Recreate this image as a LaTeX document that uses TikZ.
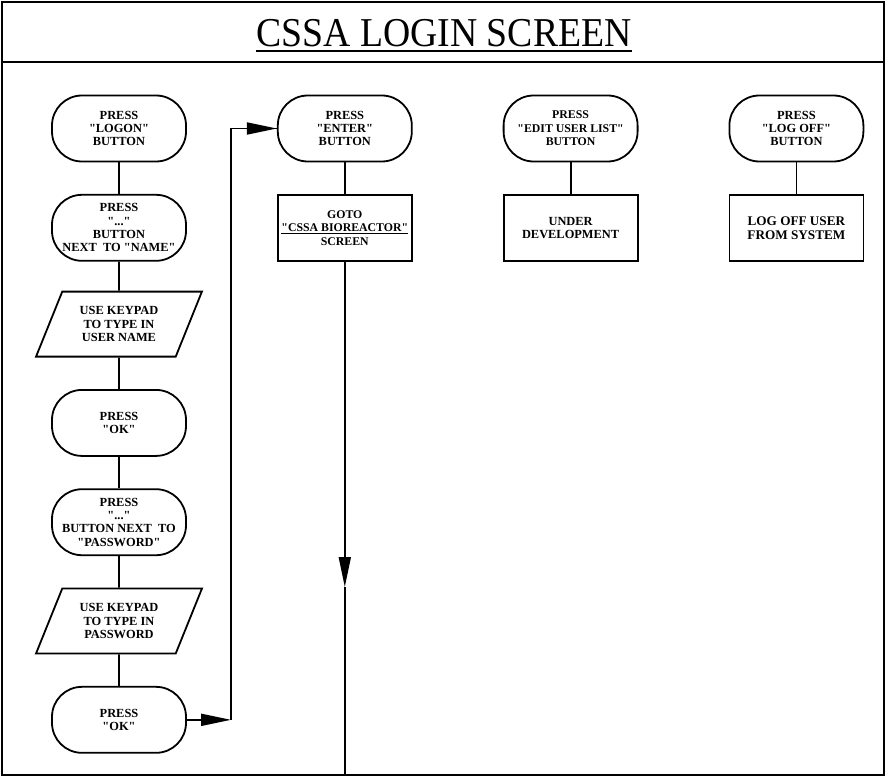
\documentclass[tikz,border=0pt]{standalone}
\usepackage{fontspec}
\setmainfont{Liberation Serif}[Ligatures=TeXOff]
\usepackage{graphicx}
\usepackage{tikz}
\usetikzlibrary{shapes.geometric,arrows.meta,positioning}
\tikzset{
  term/.style={rectangle,rounded corners=30pt,draw,line width=1.8pt,align=center,
               minimum width=134pt,minimum height=66pt,inner sep=2pt,
               font=\bfseries\fontsize{12.4}{13.4}\selectfont},
  proc/.style={term,rounded corners=0pt},
  io/.style={trapezium,trapezium left angle=64,trapezium right angle=116,
             trapezium stretches=true,draw,line width=1.8pt,align=center,
             minimum width=166pt,minimum height=65pt,inner sep=2pt,
             font=\bfseries\fontsize{12.4}{13.4}\selectfont},
  ln/.style={line width=1.8pt},
  fl/.style={ln,-{Triangle[length=30pt,width=12pt]}},
}

\begin{document}
\begin{tikzpicture}[x=1pt,y=-1pt,node distance=31.5pt]
  \useasboundingbox (0,0) rectangle (886,778);
  % frame and title band
  \draw[line width=2pt] (2,2) rectangle (884,775);
  \draw[line width=2pt] (2,62) -- (884,62);
  \node[inner sep=0pt,font=\fontsize{41}{42}\selectfont] (title) at (444,33)
    {\scalebox{0.92}[1]{CSSA LOGIN SCREEN}};
  \draw[line width=2pt] ([yshift=-5pt]title.base west) -- ([yshift=-5pt]title.base east);

  % login sequence
  \node[term] (logon) at (119,128.5) {PRESS\\"LOGON"\\BUTTON};
  \node[term,below=of logon] (name) {PRESS\\"..."\\BUTTON\\NEXT~\ TO "NAME"};
  \node[io,below=29pt of name] (user) {USE KEYPAD\\TO TYPE IN\\USER NAME};
  \node[term,below=of user] (ok1) {PRESS\\"OK"};
  \node[term,below=of ok1] (pass) {PRESS\\"..."\\BUTTON NEXT~\ TO\\"PASSWORD"};
  \node[io,below=of pass] (pwd) {USE KEYPAD\\TO TYPE IN\\PASSWORD};
  \node[term,below=of pwd] (ok2) {PRESS\\"OK"};
  \draw[ln] (logon) -- (name);
  \draw[ln] (name) -- (user);
  \draw[ln] (user) -- (ok1);
  \draw[ln] (ok1) -- (pass);
  \draw[ln] (pass) -- (pwd);
  \draw[ln] (pwd) -- (ok2);

  % other buttons
  \node[term,right=90pt of logon] (enter) {PRESS\\"ENTER"\\BUTTON};
  \node[proc,below=of enter,font=\bfseries\fontsize{11.8}{13.4}\selectfont] (goto)
    {GOTO\\\underline{"CSSA BIOREACTOR"}\\SCREEN};
  \node[term,right=90pt of enter,font=\bfseries\fontsize{11.8}{13.4}\selectfont] (edit)
    {PRESS\\"EDIT USER LIST"\\BUTTON};
  \node[proc,below=of edit] (undev) {UNDER\\DEVELOPMENT};
  \node[term,right=90pt of edit] (logoff) {PRESS\\"LOG OFF"\\BUTTON};
  \node[proc,below=of logoff,font=\bfseries\fontsize{13.2}{14}\selectfont] (offusr)
    {LOG OFF USER\\FROM SYSTEM};
  \draw[ln] (enter) -- (goto);
  \draw[ln] (edit) -- (undev);
  \draw[ln] (logoff) -- (offusr);

  % flow from last OK to ENTER and on to the next screen
  \coordinate (turn) at (231,0 |- ok2.east);
  \draw[fl] (ok2.east) -- (turn);
  \draw[ln] (turn) |- (enter.west);
  \draw[fl] (turn |- enter.west) -- (enter.west);
  \coordinate (mid) at (goto.south |- 0,587);
  \coordinate (exit) at (goto.south |- 0,775);
  \draw[fl] (goto.south) -- (mid);
  \draw[ln] (mid) -- (exit);
\end{tikzpicture}
\end{document}
